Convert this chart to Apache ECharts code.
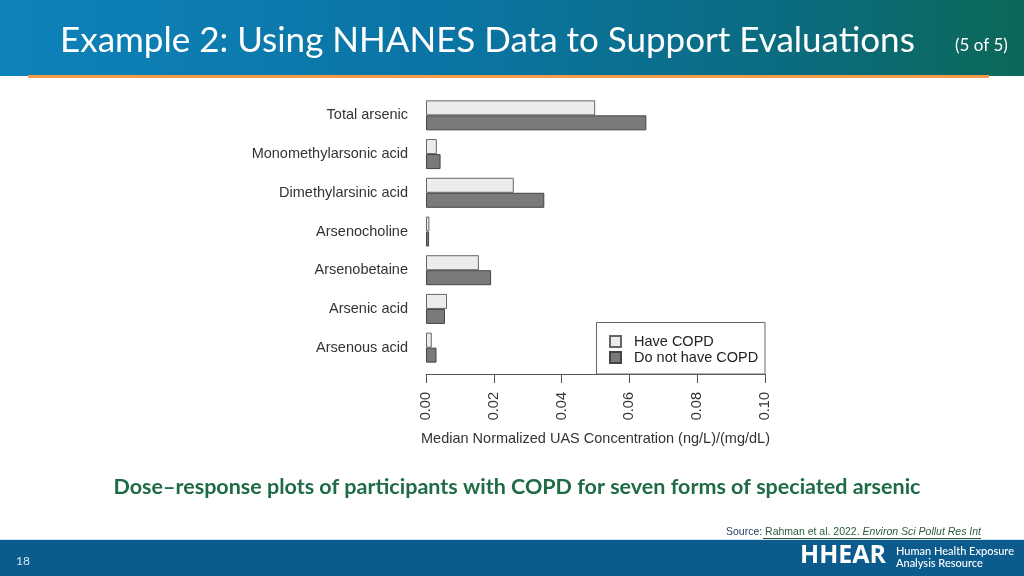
<!DOCTYPE html>
<html><head><meta charset="utf-8">
<script src="https://cdn.jsdelivr.net/npm/echarts@6/dist/echarts.min.js"></script>
<style>html,body{margin:0;padding:0;background:#fff}#c{width:1024px;height:576px}</style>
</head><body><div id="c"></div>
<script>
const categories = ['Total arsenic','Monomethylarsonic acid','Dimethylarsinic acid','Arsenocholine','Arsenobetaine','Arsenic acid','Arsenous acid'];
const haveCOPD = [0.0499, 0.0032, 0.0259, 0.0010, 0.0156, 0.0062, 0.0017];
const noCOPD   = [0.0650, 0.0043, 0.0349, 0.0009, 0.0192, 0.0056, 0.0031];
const seriesNames = ['Have COPD','Do not have COPD'];
const xTicks = {min:0, max:0.10, interval:0.02};

const FONT = '"Liberation Sans", Arial, sans-serif';
const chart = echarts.init(document.getElementById('c'));
chart.setOption({
  animation:false,
  backgroundColor:'#ffffff',
  graphic:[
    {type:'rect', shape:{x:0,y:0,width:1024,height:76}, z:0,
     style:{fill:new echarts.graphic.LinearGradient(0,0,1,0,[
       {offset:0,color:'#0e82ba'},{offset:0.45,color:'#0a74a3'},{offset:0.8,color:'#0b6b7c'},{offset:1,color:'#0c6856'}])}},
    {type:'rect', shape:{x:28,y:75,width:961,height:3}, style:{fill:'#f29c4a'}},
    {type:'text', left:60, top:23, style:{text:'Example 2: Using NHANES Data to Support Evaluations', fill:'#ffffff', font:'normal 35px Lato, "Open Sans", sans-serif'}},
    {type:'text', left:955, top:37, style:{text:'(5 of 5)', fill:'#ffffff', font:'normal 17px Lato, "Open Sans", sans-serif'}},
    {type:'rect', shape:{x:596.5,y:322.5,width:168.5,height:51.5}, style:{fill:'#fff', stroke:'#666', lineWidth:1}, z:5},
    {type:'text', x:517, y:487, style:{text:'Dose\u2013response plots of participants with COPD for seven forms of speciated arsenic', fill:'#1e6b46', font:'bold 21.5px Lato, "Open Sans", sans-serif', textAlign:'center', textVerticalAlign:'middle'}},
    {type:'text', x:981, y:532, style:{
      text:'{a|Source: }{b|Rahman et al. 2022. }{c|Environ Sci Pollut Res Int}', textAlign:'right', textVerticalAlign:'middle',
      rich:{
        a:{fill:'#1f3a5f', font:'10.5px '+FONT},
        b:{fill:'#2a5b3c', font:'10.5px '+FONT},
        c:{fill:'#2a5b3c', font:'italic 10.5px '+FONT}
      }}},
    {type:'line', shape:{x1:763,y1:538.5,x2:981,y2:538.5}, style:{stroke:'#2a5b3c', lineWidth:1}},
    {type:'rect', shape:{x:0,y:540,width:1024,height:36}, style:{fill:'#0b5b8c'}},
    {type:'rect', shape:{x:0,y:539,width:1024,height:1}, style:{fill:'#cfe4f2'}},
    {type:'text', left:16, top:555, style:{text:'18', fill:'#d6eaf8', font:'12px Lato, "Open Sans", sans-serif'}},
    {type:'text', left:800, top:543, style:{text:'HHEAR', fill:'#ffffff', font:'bold 25px "Open Sans", Lato, sans-serif'}},
    {type:'text', left:896, top:545, style:{text:'Human Health Exposure\nAnalysis Resource', fill:'#ffffff', font:'500 11px Lato, "Open Sans", sans-serif', lineHeight:12}}
  ],
  legend:{
    data:seriesNames, orient:'vertical', left:604, top:329, z:10,
    itemWidth:11, itemHeight:11, itemGap:1, icon:'rect',
    textStyle:{fontSize:14.5, color:'#222', fontFamily:FONT, padding:[0,0,0,8]}
  },
  grid:{left:426, top:96, width:339, height:271, containLabel:false},
  xAxis:{
    type:'value', min:xTicks.min, max:xTicks.max, interval:xTicks.interval, offset:7,
    axisLine:{show:true, lineStyle:{color:'#555', width:1}},
    axisTick:{show:true, length:9, lineStyle:{color:'#555'}},
    splitLine:{show:false},
    axisLabel:{rotate:90, margin:18, fontSize:14.5, color:'#333', fontFamily:FONT, formatter:v=>v.toFixed(2)},
    name:'Median Normalized UAS Concentration (ng/L)/(mg/dL)', nameLocation:'middle', nameGap:57,
    nameTextStyle:{fontSize:14.5, color:'#333', fontFamily:FONT}
  },
  yAxis:{
    type:'category', data:categories, inverse:true,
    axisLine:{show:false}, axisTick:{show:false},
    axisLabel:{margin:18, fontSize:14.5, color:'#333', fontFamily:FONT}
  },
  series:[
    {name:seriesNames[0], type:'bar', data:haveCOPD, barWidth:15, barGap:'0%',
     itemStyle:{color:'#ececec', borderColor:'#666', borderWidth:1}},
    {name:seriesNames[1], type:'bar', data:noCOPD, barWidth:15, barGap:'0%',
     itemStyle:{color:'#7a7a7a', borderColor:'#444', borderWidth:1}}
  ]
});
</script></body></html>
